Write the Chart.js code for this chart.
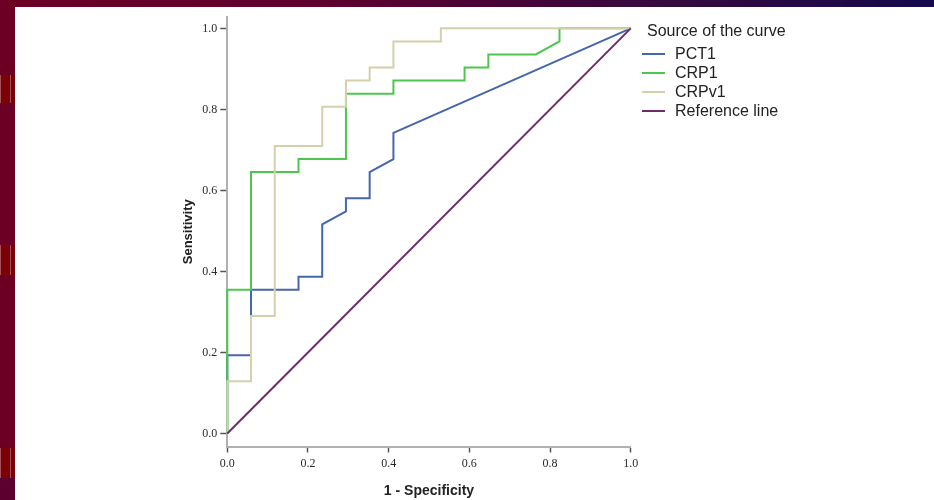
<!DOCTYPE html>
<html>
<head>
<meta charset="utf-8">
<script src="https://cdn.jsdelivr.net/npm/chart.js@4.4.0/dist/chart.umd.min.js"></script>
<style>
html,body{margin:0;padding:0;width:934px;height:500px;overflow:hidden;background:#fff;}
#wrap{position:relative;width:934px;height:500px;background:#fff;}
#topbar{position:absolute;left:0;top:0;width:934px;height:7px;background:linear-gradient(to right,#6c0024 0%,#5e002e 35%,#36083e 70%,#140a4c 100%);}
#leftbar{position:absolute;left:0;top:0;width:15px;height:500px;background:#6c0024;}
.blk{position:absolute;left:0;width:15px;background:#7c0006;}
.blk:before{content:"";position:absolute;left:0;top:0;width:1px;height:100%;background:#a0545a;}
.blk:after{content:"";position:absolute;left:10px;top:0;width:1px;height:100%;background:#a0545a;}
#chart{position:absolute;left:0;top:0;}
.lg{position:absolute;font-family:"Liberation Sans",Arial,sans-serif;font-size:16px;line-height:18px;color:#222;white-space:nowrap;}
.sw{position:absolute;width:23px;height:2px;}
</style>
</head>
<body>
<div id="wrap">
  <div id="leftbar"></div>
  <div class="blk" style="top:75px;height:28px"></div>
  <div class="blk" style="top:245px;height:30px"></div>
  <div class="blk" style="top:448px;height:30px"></div>
  <div style="position:absolute;left:0;top:478px;width:15px;height:22px;background:#5c0030"></div>
  <div id="topbar"></div>
  <canvas id="chart" width="934" height="500"></canvas>
  <div id="legend"></div>
</div>
<script>
// ---- data (ROC curve vertices) ----
const seriesNames = ["PCT1", "CRP1", "CRPv1", "Reference line"];
const seriesColors = ["#4466ad", "#4cc64c", "#d3d0aa", "#6e2c6a"];
const legendTitle = "Source of the curve";

const pctX  = [0, 0, 0.0588, 0.0588, 0.1765, 0.1765, 0.2353, 0.2353, 0.2941, 0.2941, 0.3529, 0.3529, 0.4118, 0.4118, 1];
const pctY  = [0, 0.1935, 0.1935, 0.3548, 0.3548, 0.3871, 0.3871, 0.5161, 0.5484, 0.5806, 0.5806, 0.6452, 0.6774, 0.7419, 1];

const crpX  = [0, 0, 0.0588, 0.0588, 0.1765, 0.1765, 0.2941, 0.2941, 0.4118, 0.4118, 0.5882, 0.5882, 0.6471, 0.6471, 0.7647, 0.8235, 0.8235, 1];
const crpY  = [0, 0.3548, 0.3548, 0.6452, 0.6452, 0.6774, 0.6774, 0.8387, 0.8387, 0.8710, 0.8710, 0.9032, 0.9032, 0.9355, 0.9355, 0.9677, 1, 1];

const crpvX = [0, 0, 0.0588, 0.0588, 0.1176, 0.1176, 0.2353, 0.2353, 0.2941, 0.2941, 0.3529, 0.3529, 0.4118, 0.4118, 0.5294, 0.5294, 1];
const crpvY = [0, 0.1290, 0.1290, 0.2903, 0.2903, 0.7097, 0.7097, 0.8065, 0.8065, 0.8710, 0.8710, 0.9032, 0.9032, 0.9677, 0.9677, 1, 1];

const refX  = [0, 1];
const refY  = [0, 1];

const xTickValues = [0, 0.2, 0.4, 0.6, 0.8, 1.0];
const yTickValues = [0, 0.2, 0.4, 0.6, 0.8, 1.0];
const xTitle = "1 - Specificity";
const yTitle = "Sensitivity";

// ---- build ----
const pts = (xs, ys) => xs.map((x, i) => ({x: x, y: ys[i]}));
const seriesData = [pts(pctX, pctY), pts(crpX, crpY), pts(crpvX, crpvY), pts(refX, refY)];

const datasets = seriesNames.map((name, i) => ({
  label: name,
  data: seriesData[i],
  showLine: true,
  borderColor: seriesColors[i],
  backgroundColor: seriesColors[i],
  borderWidth: 2,
  pointRadius: 0,
  pointHoverRadius: 0,
  tension: 0,
  fill: false,
  clip: 6,
  order: seriesNames.length - i
}));

const tickFont = {family: "'Liberation Serif', 'Times New Roman', serif", size: 12};
const titleFont = {family: "'Liberation Sans', Arial, sans-serif", size: 14, weight: 'bold'};

new Chart(document.getElementById('chart'), {
  type: 'scatter',
  data: {datasets: datasets},
  options: {
    responsive: false,
    animation: false,
    devicePixelRatio: 1,
    layout: {padding: {left: 176, right: 303.3, top: 17, bottom: 0}},
    plugins: {legend: {display: false}, tooltip: {enabled: false}},
    scales: {
      x: {
        type: 'linear', min: 0, max: 1,
        afterBuildTicks: s => { s.ticks = xTickValues.map(v => ({value: v})); },
        afterFit: s => { s.height = 53.5; },
        ticks: {callback: v => Number(v).toFixed(1), font: tickFont, color: '#2a2a2a', padding: 4, maxRotation: 0, autoSkip: false},
        grid: {display: true, drawOnChartArea: false, drawTicks: true, tickLength: 6, tickColor: '#555', tickWidth: 1.5},
        border: {display: true, color: '#b0b0b0', width: 2},
        title: {display: true, text: xTitle, font: titleFont, color: '#222', padding: {top: 0, bottom: 0}}
      },
      y: {
        type: 'linear', min: -0.032, max: 1.028,
        afterBuildTicks: s => { s.ticks = yTickValues.map(v => ({value: v})); },
        afterFit: s => { s.width = 227.3 - 176; },
        ticks: {callback: v => Number(v).toFixed(1), font: tickFont, color: '#2a2a2a', padding: 3, autoSkip: false},
        grid: {display: true, drawOnChartArea: false, drawTicks: true, tickLength: 7, tickColor: '#555', tickWidth: 1.5},
        border: {display: true, color: '#b0b0b0', width: 2},
        title: {display: true, text: yTitle, font: {family: "'Liberation Sans', Arial, sans-serif", size: 13, weight: 'bold'}, color: '#222', padding: {top: 5, bottom: 0}}
      }
    }
  }
});

// ---- legend (HTML text) ----
const lg = document.getElementById('legend');
const t = document.createElement('div');
t.className = 'lg'; t.style.left = '647px'; t.style.top = '22px'; t.textContent = legendTitle;
lg.appendChild(t);
const centers = [53.5, 72.5, 91.5, 110.5];
seriesNames.forEach((name, i) => {
  const sw = document.createElement('div');
  sw.className = 'sw'; sw.style.left = '642px'; sw.style.top = (centers[i] - 1) + 'px';
  sw.style.background = seriesColors[i];
  lg.appendChild(sw);
  const tx = document.createElement('div');
  tx.className = 'lg'; tx.style.left = '675px'; tx.style.top = (centers[i] - 9) + 'px';
  tx.textContent = name;
  lg.appendChild(tx);
});
</script>
</body>
</html>
